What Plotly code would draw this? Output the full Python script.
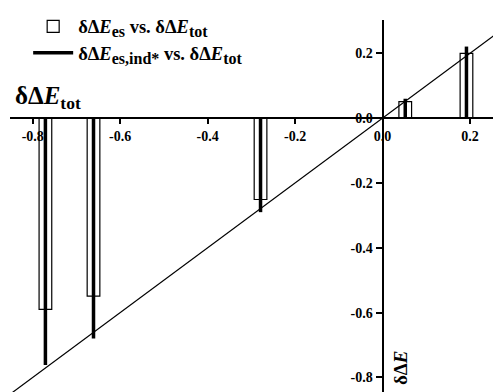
import plotly.graph_objects as go

# ---- data ----
x_tot = [-0.771, -0.661, -0.279, 0.052, 0.192]          # δΔE_tot
y_es = [-0.590, -0.549, -0.251, 0.051, 0.200]           # δΔE_es
y_es_ind = [-0.762, -0.680, -0.290, 0.060, 0.221]       # δΔE_es,ind*
diag_line = [-0.86, 0.28]                               # y = x reference line

x_ticks = [-0.8, -0.6, -0.4, -0.2, 0.0, 0.2]
x_ticktext = ["-0.8", "-0.6", "-0.4", "-0.2", "0.0", "0.2"]
y_ticks = [0.2, 0.0, -0.2, -0.4, -0.6, -0.8]
y_ticktext = ["0.2", "0.0", "-0.2", "-0.4", "-0.6", "-0.8"]

x_range = [-0.852, 0.271]
y_range = [-0.845, 0.303]

FONT = "Liberation Serif"


def sub(t):
    return "<sub><span style='font-size:16px'>" + t + "</span></sub>"


def big(t):
    return "<span style='font-size:18.5px'>" + t + "</span>"


name_es = big("δΔ<i>E</i>" + sub("es") + " vs. δΔ<i>E</i>" + sub("tot"))
name_ind = big("δΔ<i>E</i>" + sub("es,ind*") + " vs. δΔ<i>E</i>" + sub("tot"))

# thick lines from 0 to value, built from the data arrays
line_x, line_y = [], []
for xv, yv in zip(x_tot, y_es_ind):
    line_x += [xv, xv, None]
    line_y += [0, yv, None]

fig = go.Figure()
fig.add_trace(go.Bar(
    x=x_tot, y=y_es, width=0.029,
    marker=dict(color="white", line=dict(color="black", width=1.2)),
    name=name_es,
))
fig.add_trace(go.Scatter(
    x=line_x, y=line_y, mode="lines",
    line=dict(color="black", width=3.5),
    name=name_ind,
))
fig.add_trace(go.Scatter(
    x=diag_line, y=diag_line, mode="lines",
    line=dict(color="black", width=1.2),
    showlegend=False, hoverinfo="skip",
))

x0_frac = (0 - x_range[0]) / (x_range[1] - x_range[0])
y0_frac = (0 - y_range[0]) / (y_range[1] - y_range[0])

tickfont = dict(family=FONT, size=14, color="black", weight="bold")

# the page body adds an 8px offset; size/margins compensate for it
fig.update_layout(
    width=493, height=384,
    margin=dict(l=2, r=0, t=12, b=0, autoexpand=False),
    paper_bgcolor="white", plot_bgcolor="white",
    barmode="overlay",
    showlegend=True,
    legend=dict(
        x=0.037, y=1.032, xanchor="left", yanchor="top",
        font=dict(family=FONT, size=18, color="black", weight="bold"),
        bgcolor="rgba(0,0,0,0)", itemwidth=40, tracegroupgap=0,
    ),
    xaxis=dict(
        range=x_range, anchor="free", position=y0_frac,
        showline=True, linecolor="black", linewidth=2,
        ticks="outside", ticklen=5, tickwidth=1.5, tickcolor="black",
        tickvals=x_ticks, ticktext=x_ticktext, tickfont=tickfont,
        showgrid=False, zeroline=False,
    ),
    yaxis=dict(
        range=y_range, anchor="free", position=x0_frac,
        showline=True, linecolor="black", linewidth=2,
        ticks="outside", ticklen=6, tickwidth=1.5, tickcolor="black",
        tickvals=y_ticks, ticktext=y_ticktext, tickfont=tickfont,
        showgrid=False, zeroline=False,
    ),
    annotations=[
        dict(text="<b>δΔ<i>E</i><sub>tot</sub></b>", xref="paper", yref="paper",
             x=0.006, y=0.745, xanchor="left", yanchor="bottom", showarrow=False,
             font=dict(family=FONT, size=25, color="black")),
        dict(text="<b>δΔ<i>E</i></b>", xref="paper", yref="paper",
             x=0.794, y=0.064, xanchor="center", yanchor="middle", showarrow=False,
             textangle=-90, font=dict(family=FONT, size=19, color="black")),
    ],
)

fig.write_html("out.html")
